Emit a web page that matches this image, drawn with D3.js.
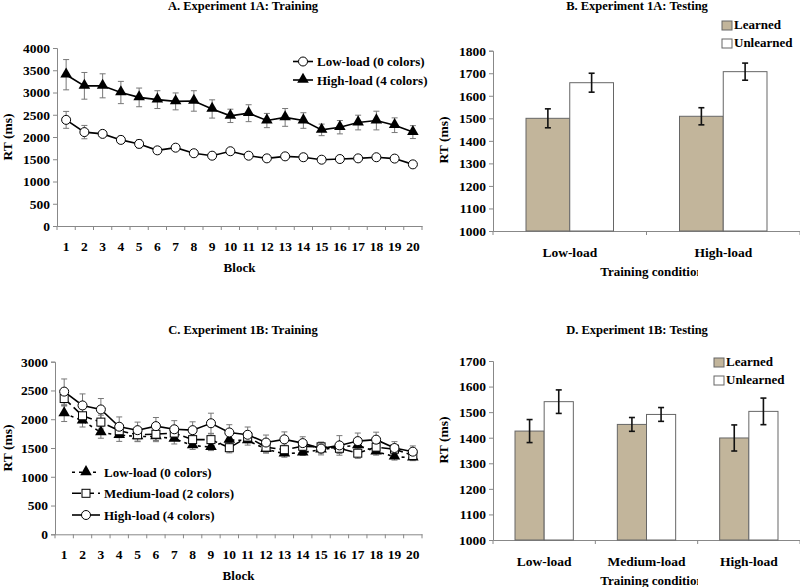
<!DOCTYPE html>
<html lang="en">
<head>
<meta charset="utf-8">
<title>Experiment 1A / 1B: Training and Testing</title>
<script src="https://cdn.jsdelivr.net/npm/d3@7"></script>
<style>
  body { margin: 0; background: #fff; }
  svg text { font-family: "Liberation Serif", "Times New Roman", serif; font-weight: bold; fill: #000; }
</style>
</head>
<body>
<script>
// ---- data ----
var blocks = [1, 2, 3, 4, 5, 6, 7, 8, 9, 10, 11, 12, 13, 14, 15, 16, 17, 18, 19, 20];

// A. Experiment 1A: Training
var aLow    = [2385, 2110, 2070, 1935, 1845, 1700, 1760, 1635, 1580, 1680, 1580, 1520, 1565, 1545, 1490, 1505, 1520, 1545, 1515, 1385];
var aLowSE  = [190, 150, 60, 80, 90, 70, 60, 50, 50, 50, 50, 70, 50, 80, 50, 40, 40, 40, 60, 40];
var aHigh   = [3400, 3150, 3150, 3000, 2890, 2840, 2800, 2810, 2630, 2475, 2535, 2370, 2440, 2370, 2160, 2220, 2325, 2370, 2265, 2110];
var aHighSE = [340, 300, 270, 250, 210, 200, 190, 230, 205, 150, 190, 160, 200, 175, 130, 150, 165, 210, 165, 145];

// C. Experiment 1B: Training
var cLow    = [2100, 1975, 1770, 1725, 1700, 1700, 1660, 1545, 1515, 1640, 1630, 1480, 1400, 1420, 1470, 1520, 1545, 1436, 1350, 1330];
var cLowSE  = [140, 110, 100, 110, 90, 90, 90, 70, 60, 90, 80, 70, 60, 50, 60, 60, 70, 60, 60, 50];
var cMed    = [2360, 2060, 1950, 1800, 1730, 1740, 1760, 1645, 1645, 1505, 1690, 1515, 1470, 1530, 1520, 1495, 1410, 1515, 1480, 1370];
var cMedSE  = [130, 120, 120, 120, 110, 110, 110, 100, 100, 90, 100, 90, 80, 80, 80, 90, 90, 80, 80, 70];
var cHigh   = [2480, 2240, 2170, 1870, 1810, 1880, 1825, 1810, 1930, 1770, 1730, 1595, 1650, 1585, 1490, 1545, 1620, 1645, 1500, 1436];
var cHighSE = [220, 200, 190, 170, 140, 150, 150, 145, 175, 135, 135, 130, 130, 110, 110, 170, 140, 130, 110, 100];

// B. Experiment 1A: Testing
var bConditions  = ["Low-load", "High-load"];
var bLearned     = [1500, 1509];
var bLearnedSE   = [42, 38];
var bUnlearned   = [1658, 1707];
var bUnlearnedSE = [42, 38];

// D. Experiment 1B: Testing
var dConditions  = ["Low-load", "Medium-load", "High-load"];
var dLearned     = [1426, 1452, 1399];
var dLearnedSE   = [45, 27, 51];
var dUnlearned   = [1541, 1491, 1503];
var dUnlearnedSE = [46, 27, 52];

var yTicksA = [0, 500, 1000, 1500, 2000, 2500, 3000, 3500, 4000];
var yTicksC = [0, 500, 1000, 1500, 2000, 2500, 3000];
var yTicksB = [1000, 1100, 1200, 1300, 1400, 1500, 1600, 1700, 1800];
var yTicksD = [1000, 1100, 1200, 1300, 1400, 1500, 1600, 1700];

var W = 800, H = 587;
var svg = d3.select("body").append("svg").attr("width", W).attr("height", H);

var defs = svg.append("defs");
defs.append("clipPath").attr("id", "cutRight")
    .append("rect").attr("x", 0).attr("y", 0).attr("width", 698).attr("height", H);

function styleAxis(g) {
  g.attr("font-family", null).attr("font-size", null);
  g.select(".domain").attr("stroke", "#888");
  g.selectAll(".tick line").attr("stroke", "#888");
  g.selectAll(".tick text").style("font-size", "13.5px");
}

function marker(sel, shape) {
  if (shape === "circle") {
    sel.append("circle").attr("r", 4.5).attr("fill", "#fff").attr("stroke", "#000").attr("stroke-width", 1);
  } else if (shape === "square") {
    sel.append("rect").attr("x", -4).attr("y", -4).attr("width", 8).attr("height", 8)
      .attr("fill", "#fff").attr("stroke", "#000").attr("stroke-width", 1);
  } else {
    sel.append("path").attr("d", d3.symbol().type(d3.symbolTriangle).size(58)())
      .attr("transform", "translate(0,-0.5)").attr("fill", "#000");
  }
}

function title(txt, cx, y) {
  svg.append("text").attr("x", cx).attr("y", y).attr("text-anchor", "middle")
    .style("font-size", "12.5px").text(txt);
}

function yLabel(x, cy) {
  svg.append("text").attr("transform", "translate(" + x + "," + cy + ") rotate(-90)")
    .attr("text-anchor", "middle").style("font-size", "13.5px").text("RT (ms)");
}

// ---- line panels ----
function linePanel(p) {
  var x = d3.scaleBand().domain(blocks).range([p.left, p.right]);
  var y = d3.scaleLinear().domain([0, p.ymax]).range([p.bottom, p.top]);
  var cx = function(i) { return x(blocks[i]) + x.bandwidth() / 2; };

  svg.append("g").attr("transform", "translate(" + p.left + ",0)")
    .call(d3.axisLeft(y).tickValues(p.yticks).tickFormat(d3.format("d")).tickSize(4).tickPadding(3))
    .call(styleAxis);

  var gx = svg.append("g").attr("transform", "translate(0," + p.bottom + ")")
    .call(d3.axisBottom(x).tickSize(0).tickPadding(15))
    .call(styleAxis);
  gx.selectAll(".bnd").data(blocks.concat([null])).enter().append("line")
    .attr("x1", function(d, i) { return p.left + i * x.bandwidth(); })
    .attr("x2", function(d, i) { return p.left + i * x.bandwidth(); })
    .attr("y1", 0).attr("y2", 4).attr("stroke", "#888");

  svg.append("text").attr("x", (p.left + p.right) / 2).attr("y", p.bottom + 46)
    .attr("text-anchor", "middle").style("font-size", "13px").text("Block");

  p.series.forEach(function(s) {
    var eb = svg.append("g").attr("stroke", "#777").attr("stroke-width", 1);
    s.values.forEach(function(v, i) {
      var x0 = cx(i), y1 = y(v + s.se[i]), y2 = y(v - s.se[i]);
      eb.append("line").attr("x1", x0).attr("x2", x0).attr("y1", y1).attr("y2", y2);
      eb.append("line").attr("x1", x0 - 3).attr("x2", x0 + 3).attr("y1", y1).attr("y2", y1);
      eb.append("line").attr("x1", x0 - 3).attr("x2", x0 + 3).attr("y1", y2).attr("y2", y2);
    });
  });
  p.series.forEach(function(s) {
    svg.append("path").datum(s.values)
      .attr("fill", "none").attr("stroke", "#000").attr("stroke-width", 1.6)
      .attr("stroke-dasharray", s.dash)
      .attr("d", d3.line().x(function(d, i) { return cx(i); }).y(function(d) { return y(d); }));
  });
  p.series.forEach(function(s) {
    s.values.forEach(function(v, i) {
      svg.append("g").attr("transform", "translate(" + cx(i) + "," + y(v) + ")").call(marker, s.shape);
    });
  });

  // legend
  p.series.forEach(function(s, i) {
    var ly = p.legend.ys[i];
    svg.append("line").attr("x1", p.legend.x0).attr("x2", p.legend.x1).attr("y1", ly).attr("y2", ly)
      .attr("stroke", "#000").attr("stroke-width", 1.6).attr("stroke-dasharray", s.dash);
    svg.append("g").attr("transform", "translate(" + ((p.legend.x0 + p.legend.x1) / 2) + "," + ly + ")")
      .call(marker, s.shape);
    svg.append("text").attr("x", p.legend.tx).attr("y", ly + 4.5).style("font-size", "13px").text(s.name);
  });
}

// ---- bar panels ----
function barPanel(p) {
  var x0 = d3.scaleBand().domain(p.conds).range([p.left, p.right]);
  var bw = x0.bandwidth();
  var x1 = d3.scaleBand().domain(["Learned", "Unlearned"]).range([bw * 0.215, bw * 0.785]);
  var y = d3.scaleLinear().domain([1000, p.ymax]).range([p.bottom, p.top]);

  svg.append("g").attr("transform", "translate(" + p.left + ",0)")
    .call(d3.axisLeft(y).tickValues(p.yticks).tickFormat(d3.format("d")).tickSize(4).tickPadding(3))
    .call(styleAxis);

  var gx = svg.append("g").attr("transform", "translate(0," + p.bottom + ")")
    .call(d3.axisBottom(x0).tickSize(0).tickPadding(16))
    .call(styleAxis);
  gx.selectAll(".bnd").data(p.conds.concat([null])).enter().append("line")
    .attr("x1", function(d, i) { return p.left + i * bw; })
    .attr("x2", function(d, i) { return p.left + i * bw; })
    .attr("y1", 0).attr("y2", 4).attr("stroke", "#888");

  var groups = [
    { key: "Learned", vals: p.learned, se: p.learnedSE, fill: "#c2b59b" },
    { key: "Unlearned", vals: p.unlearned, se: p.unlearnedSE, fill: "#fff" }
  ];
  groups.forEach(function(gr) {
    svg.append("g").selectAll("rect").data(gr.vals).enter().append("rect")
      .attr("x", function(d, i) { return x0(p.conds[i]) + x1(gr.key); })
      .attr("y", function(d) { return y(d); })
      .attr("width", x1.bandwidth())
      .attr("height", function(d) { return p.bottom - y(d); })
      .attr("fill", gr.fill).attr("stroke", "#666").attr("stroke-width", 1);
  });
  groups.forEach(function(gr) {
    var eb = svg.append("g").attr("stroke", "#111").attr("stroke-width", 1.6);
    gr.vals.forEach(function(v, i) {
      var xc = x0(p.conds[i]) + x1(gr.key) + x1.bandwidth() / 2;
      var y1 = y(v + gr.se[i]), y2 = y(v - gr.se[i]);
      eb.append("line").attr("x1", xc).attr("x2", xc).attr("y1", y1).attr("y2", y2);
      eb.append("line").attr("x1", xc - 3).attr("x2", xc + 3).attr("y1", y1).attr("y2", y1);
      eb.append("line").attr("x1", xc - 3).attr("x2", xc + 3).attr("y1", y2).attr("y2", y2);
    });
  });

  svg.append("text").attr("x", p.xtitleX).attr("y", p.bottom + 45)
    .attr("text-anchor", "middle").attr("clip-path", "url(#cutRight)")
    .style("font-size", "13px").text("Training condition");

  groups.forEach(function(gr, i) {
    var ly = p.legend.ys[i];
    svg.append("rect").attr("x", p.legend.x).attr("y", ly - 8).attr("width", 10).attr("height", 9)
      .attr("fill", gr.fill).attr("stroke", "#666").attr("stroke-width", 1);
    svg.append("text").attr("x", p.legend.x + 12).attr("y", ly).style("font-size", "13px").text(gr.key);
  });
}

// A
title("A. Experiment 1A: Training", 243, 10);
yLabel(12, 137);
linePanel({
  left: 57, right: 422, top: 48, bottom: 226, ymax: 4000, yticks: yTicksA,
  series: [
    { name: "Low-load (0 colors)", values: aLow, se: aLowSE, shape: "circle", dash: null },
    { name: "High-load (4 colors)", values: aHigh, se: aHighSE, shape: "triangle", dash: null }
  ],
  legend: { x0: 293, x1: 313, tx: 317, ys: [61.5, 80] }
});

// B
title("B. Experiment 1A: Testing", 637, 10);
yLabel(448, 140);
barPanel({
  left: 493, right: 800, top: 50.7, bottom: 231, ymax: 1800, yticks: yTicksB,
  conds: bConditions, learned: bLearned, learnedSE: bLearnedSE,
  unlearned: bUnlearned, unlearnedSE: bUnlearnedSE,
  xtitleX: 652, legend: { x: 722, ys: [29, 47] }
});

// C
title("C. Experiment 1B: Training", 243, 334);
yLabel(12, 448);
linePanel({
  left: 55, right: 422, top: 361.7, bottom: 534.3, ymax: 3000, yticks: yTicksC,
  series: [
    { name: "Low-load (0 colors)", values: cLow, se: cLowSE, shape: "triangle", dash: "3,4" },
    { name: "Medium-load (2 colors)", values: cMed, se: cMedSE, shape: "square", dash: "9,4" },
    { name: "High-load (4 colors)", values: cHigh, se: cHighSE, shape: "circle", dash: null }
  ],
  legend: { x0: 72, x1: 100, tx: 104, ys: [472.3, 493.3, 515] }
});

// D
title("D. Experiment 1B: Testing", 637, 334);
yLabel(448, 440);
barPanel({
  left: 493, right: 800, top: 361, bottom: 540, ymax: 1700, yticks: yTicksD,
  conds: dConditions, learned: dLearned, learnedSE: dLearnedSE,
  unlearned: dUnlearned, unlearnedSE: dUnlearnedSE,
  xtitleX: 652, legend: { x: 714, ys: [366, 384] }
});
</script>
</body>
</html>
